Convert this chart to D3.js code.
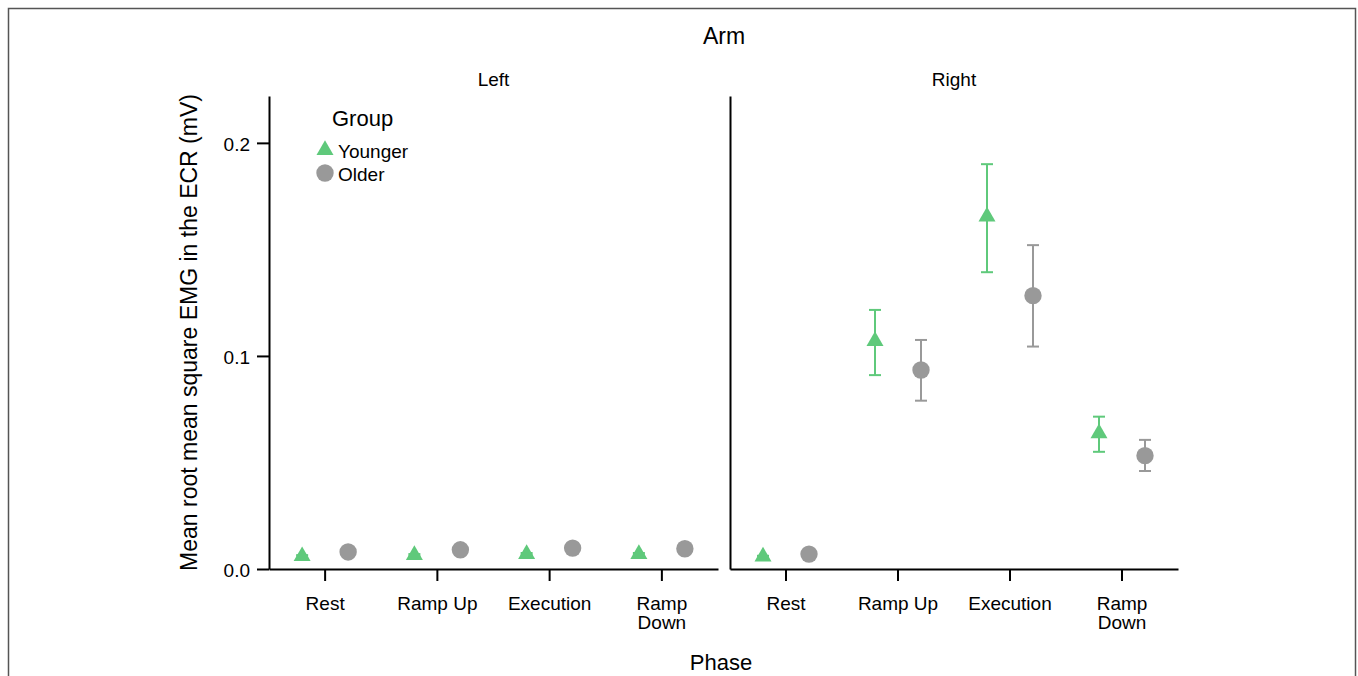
<!DOCTYPE html>
<html>
<head>
<meta charset="utf-8">
<script src="https://cdn.jsdelivr.net/npm/d3@7"></script>
<style>
  body { margin: 0; background: #fff; }
  svg, svg text { font-family: "Liberation Sans", Arial, sans-serif; }
</style>
</head>
<body>
<div id="chart"></div>
<script>
// data
const arms = ["Left", "Right"];
const phases = ["Rest", "Ramp Up", "Execution", "Ramp Down"];
const groups = ["Younger", "Older"];

// mean, lower, upper per phase
const leftYoungerMean = [0.006, 0.0065, 0.007, 0.007];
const leftYoungerLo = [0.0055, 0.006, 0.0065, 0.0065];
const leftYoungerHi = [0.0065, 0.007, 0.0075, 0.0075];
const leftOlderMean = [0.008, 0.009, 0.0098, 0.0095];
const leftOlderLo = [0.0075, 0.0085, 0.0092, 0.009];
const leftOlderHi = [0.0085, 0.0095, 0.0104, 0.01];
const rightYoungerMean = [0.0058, 0.107, 0.1654, 0.0637];
const rightYoungerLo = [0.0055, 0.091, 0.1393, 0.055];
const rightYoungerHi = [0.0062, 0.1216, 0.190, 0.0715];
const rightOlderMean = [0.007, 0.0934, 0.1283, 0.0532];
const rightOlderLo = [0.0066, 0.079, 0.1044, 0.046];
const rightOlderHi = [0.0075, 0.1075, 0.152, 0.0606];

const yTicks = [0.0, 0.1, 0.2];

const colors = { Younger: "#5fc97b", Older: "#999999" };

// build rows
const series = {
  Left: {
    Younger: [leftYoungerMean, leftYoungerLo, leftYoungerHi],
    Older: [leftOlderMean, leftOlderLo, leftOlderHi]
  },
  Right: {
    Younger: [rightYoungerMean, rightYoungerLo, rightYoungerHi],
    Older: [rightOlderMean, rightOlderLo, rightOlderHi]
  }
};
const rows = [];
arms.forEach(arm => {
  groups.forEach(g => {
    const [m, lo, hi] = series[arm][g];
    phases.forEach((p, i) => rows.push({ arm, group: g, phase: p, mean: m[i], lo: lo[i], hi: hi[i] }));
  });
});

const W = 1358, H = 676;
const font = '"Liberation Sans", Arial, sans-serif';
const svg = d3.select("#chart").append("svg")
  .attr("width", W).attr("height", H)
  .style("font-family", font);

// frame
svg.append("rect")
  .attr("x", 8.5).attr("y", 8.5)
  .attr("width", 1347).attr("height", 700)
  .attr("fill", "none")
  .attr("stroke", "#555")
  .attr("stroke-width", 1.5);

const panelRanges = { Left: [269, 718], Right: [730, 1178] };
const plotTop = 96, plotBottom = 569;

const y = d3.scaleLinear().domain([0, 0.222]).range([plotBottom, plotTop]);
const dodge = d3.scalePoint().domain(groups).range([-23, 23]);

const triangle = d3.symbol().type(d3.symbolTriangle).size(125);

arms.forEach((arm, ai) => {
  const x = d3.scaleBand().domain(phases).range(panelRanges[arm]);
  const g = svg.append("g");

  // x axis
  const xa = g.append("g")
    .attr("transform", `translate(0,${plotBottom})`)
    .call(d3.axisBottom(x).tickSize(12).tickSizeOuter(0));
  xa.attr("font-family", font);
  xa.select(".domain").attr("stroke", "#000").attr("stroke-width", 2);
  xa.selectAll(".tick line").attr("stroke", "#000").attr("stroke-width", 2);
  xa.selectAll(".tick text").remove();
  xa.selectAll(".tick").each(function(d) {
    const words = d === "Ramp Down" ? ["Ramp", "Down"] : [d];
    const t = d3.select(this).append("text")
      .attr("fill", "#000")
      .attr("text-anchor", "middle")
      .style("font-size", "19px");
    words.forEach((w, wi) => t.append("tspan").attr("x", 0).attr("y", 41 + wi * 19).text(w));
  });

  // y axis
  const ya = g.append("g")
    .attr("transform", `translate(${panelRanges[arm][0]},0)`)
    .call(d3.axisLeft(y).tickValues(yTicks).tickFormat(d3.format(".1f")).tickSize(12).tickSizeOuter(0).tickPadding(7));
  ya.attr("font-family", font);
  ya.select(".domain").attr("stroke", "#000").attr("stroke-width", 2);
  ya.selectAll(".tick line").attr("stroke", "#000").attr("stroke-width", 2);
  ya.selectAll(".tick text").style("font-size", "19px").attr("fill", "#000").attr("dy", "0.4em");
  if (ai !== 0) ya.selectAll(".tick").remove();

  // panel title
  g.append("text")
    .attr("x", (panelRanges[arm][0] + panelRanges[arm][1]) / 2)
    .attr("y", 86)
    .attr("text-anchor", "middle")
    .style("font-size", "19px")
    .text(arm);

  const data = rows.filter(d => d.arm === arm);
  const cx = d => x(d.phase) + x.bandwidth() / 2 + dodge(d.group);

  // error bars
  const eb = g.selectAll(".eb").data(data).enter().append("g")
    .attr("stroke", d => colors[d.group])
    .attr("stroke-width", 2);
  eb.append("line")
    .attr("x1", cx).attr("x2", cx)
    .attr("y1", d => y(d.lo)).attr("y2", d => y(d.hi));
  eb.append("line")
    .attr("x1", d => cx(d) - 6).attr("x2", d => cx(d) + 6)
    .attr("y1", d => y(d.lo)).attr("y2", d => y(d.lo));
  eb.append("line")
    .attr("x1", d => cx(d) - 6).attr("x2", d => cx(d) + 6)
    .attr("y1", d => y(d.hi)).attr("y2", d => y(d.hi));

  // markers
  g.selectAll(".tri").data(data.filter(d => d.group === "Younger")).enter()
    .append("path")
    .attr("d", triangle)
    .attr("transform", d => `translate(${cx(d)},${y(d.mean)})`)
    .attr("fill", colors.Younger);
  g.selectAll(".dot").data(data.filter(d => d.group === "Older")).enter()
    .append("circle")
    .attr("cx", cx)
    .attr("cy", d => y(d.mean))
    .attr("r", 8.7)
    .attr("fill", colors.Older);
});

// legend
const lg = svg.append("g");
lg.append("text").attr("x", 332).attr("y", 126).style("font-size", "22px").text("Group");
groups.forEach((gr, i) => {
  const ly = 150 + i * 23;
  if (gr === "Younger") {
    lg.append("path").attr("d", triangle).attr("transform", `translate(325,${ly})`).attr("fill", colors[gr]);
  } else {
    lg.append("circle").attr("cx", 325).attr("cy", ly).attr("r", 8.7).attr("fill", colors[gr]);
  }
  lg.append("text").attr("x", 338).attr("y", ly + 8).style("font-size", "19px").text(gr);
});

// titles
svg.append("text").attr("x", 724).attr("y", 44).attr("text-anchor", "middle")
  .style("font-size", "23px").text("Arm");
svg.append("text").attr("x", 721).attr("y", 670).attr("text-anchor", "middle")
  .style("font-size", "22px").text("Phase");
svg.append("text")
  .attr("transform", `translate(197,${(plotTop + plotBottom) / 2}) rotate(-90)`)
  .attr("text-anchor", "middle")
  .style("font-size", "23px")
  .text("Mean root mean square EMG in the ECR (mV)");
</script>
</body>
</html>
